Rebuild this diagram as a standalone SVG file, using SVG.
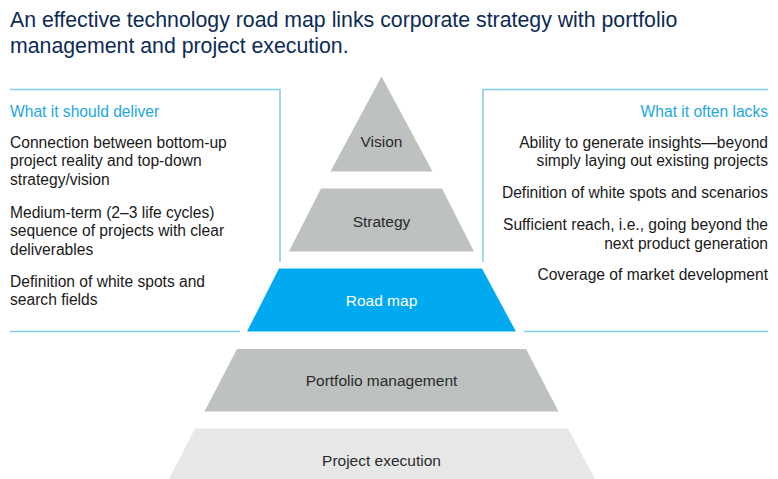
<svg xmlns="http://www.w3.org/2000/svg" width="778" height="479" viewBox="0 0 778 479">
<style>
text{font-family:"Liberation Sans",Arial,sans-serif}
.title{font-size:21.3px;fill:#0c2b55}
.head{font-size:15.6px;fill:#1ea7de}
.body{font-size:15.6px;fill:#1a1a1a}
.lbl{font-size:15.5px;fill:#2b2b2b;text-anchor:middle}
.line{stroke:#7fcdea;stroke-width:1.5;fill:none}
.gray{fill:#bdc1c0}
.light{fill:#e6e7e7}
.blue{fill:#00a9f0}
</style>
<rect width="778" height="479" fill="#ffffff"/>
<g id="title">
<text class="title" x="10" y="27">An effective technology road map links corporate strategy with portfolio</text>
<text class="title" x="10" y="53">management and project execution.</text>
</g>
<g id="connectors">
<path class="line" d="M10 89.5 H280 V262"/>
<path class="line" d="M10 331.5 H240"/>
<path class="line" d="M768 89.5 H483 V262"/>
<path class="line" d="M524 331.5 H768"/>
</g>
<g id="left-panel">
<text class="head" x="10" y="117">What it should deliver</text>
<text class="body" x="10" y="148">Connection between bottom-up</text>
<text class="body" x="10" y="166">project reality and top-down</text>
<text class="body" x="10" y="184.5">strategy/vision</text>
<text class="body" x="10" y="218">Medium-term (2–3 life cycles)</text>
<text class="body" x="10" y="236">sequence of projects with clear</text>
<text class="body" x="10" y="254.5">deliverables</text>
<text class="body" x="10" y="287">Definition of white spots and</text>
<text class="body" x="10" y="305">search fields</text>
</g>
<g id="right-panel" text-anchor="end">
<text class="head" x="768" y="117">What it often lacks</text>
<text class="body" x="768" y="148">Ability to generate insights—beyond</text>
<text class="body" x="768" y="166">simply laying out existing projects</text>
<text class="body" x="768" y="198">Definition of white spots and scenarios</text>
<text class="body" x="768" y="230">Sufficient reach, i.e., going beyond the</text>
<text class="body" x="768" y="248.5">next product generation</text>
<text class="body" x="768" y="280">Coverage of market development</text>
</g>
<g id="vision">
<polygon class="gray" points="381.5,76.5 432.5,171.5 330.5,171.5"/>
<text class="lbl" x="381.5" y="147">Vision</text>
</g>
<g id="strategy">
<polygon class="gray" points="321,188.5 442,188.5 474,251.5 289,251.5"/>
<text class="lbl" x="381.5" y="226.5">Strategy</text>
</g>
<g id="road-map">
<polygon class="blue" points="279,268.5 482,268.5 516,331.5 247,331.5"/>
<text class="lbl" x="381.5" y="305.5" style="fill:#ffffff">Road map</text>
</g>
<g id="portfolio-management">
<polygon class="gray" points="237,349 526,349 558.5,411.5 204.5,411.5"/>
<text class="lbl" x="381.5" y="386">Portfolio management</text>
</g>
<g id="project-execution">
<polygon class="light" points="195,428.5 568,428.5 595,479 169,479"/>
<text class="lbl" x="381.5" y="465.5">Project execution</text>
</g>
</svg>
